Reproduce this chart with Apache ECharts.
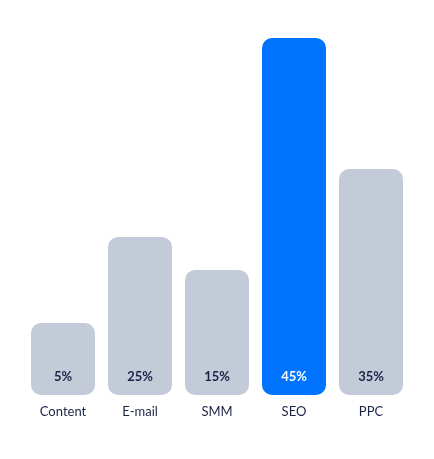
<!DOCTYPE html>
<html><head><meta charset="utf-8">
<script src="https://cdn.jsdelivr.net/npm/echarts@6/dist/echarts.min.js"></script>
<style>html,body{margin:0;padding:0;background:#fff}#c{width:434px;height:459px}</style>
</head><body><div id="c"></div>
<script>
const categories = ['Content','E-mail','SMM','SEO','PPC'];
const barHeights = [72, 158, 125, 357, 226];
const labels = ['5%','25%','15%','45%','35%'];
const highlight = 'SEO';
const chart = echarts.init(document.getElementById('c'));
chart.setOption({
  animation:false,
  grid:{left:24.5,width:385,top:38,bottom:64,containLabel:false},
  xAxis:{type:'category',data:categories,axisLine:{show:false},axisTick:{show:false},
    axisLabel:{color:'#1c2446',fontSize:13,fontFamily:'Lato',margin:10}},
  yAxis:{type:'value',min:0,max:357,show:false,splitLine:{show:false}},
  series:[{type:'bar',barWidth:64,
    data:barHeights.map((v,i)=>({value:v,
      itemStyle:{color:categories[i]===highlight?'#0073ff':'#c3cbd9',borderRadius:10},
      label:{color:categories[i]===highlight?'#ffffff':'#1c2446'}})),
    label:{show:true,position:'insideBottom',distance:12,fontSize:13,fontFamily:'Lato',fontWeight:'bold',
      formatter:p=>labels[p.dataIndex]}}]
});
</script></body></html>
